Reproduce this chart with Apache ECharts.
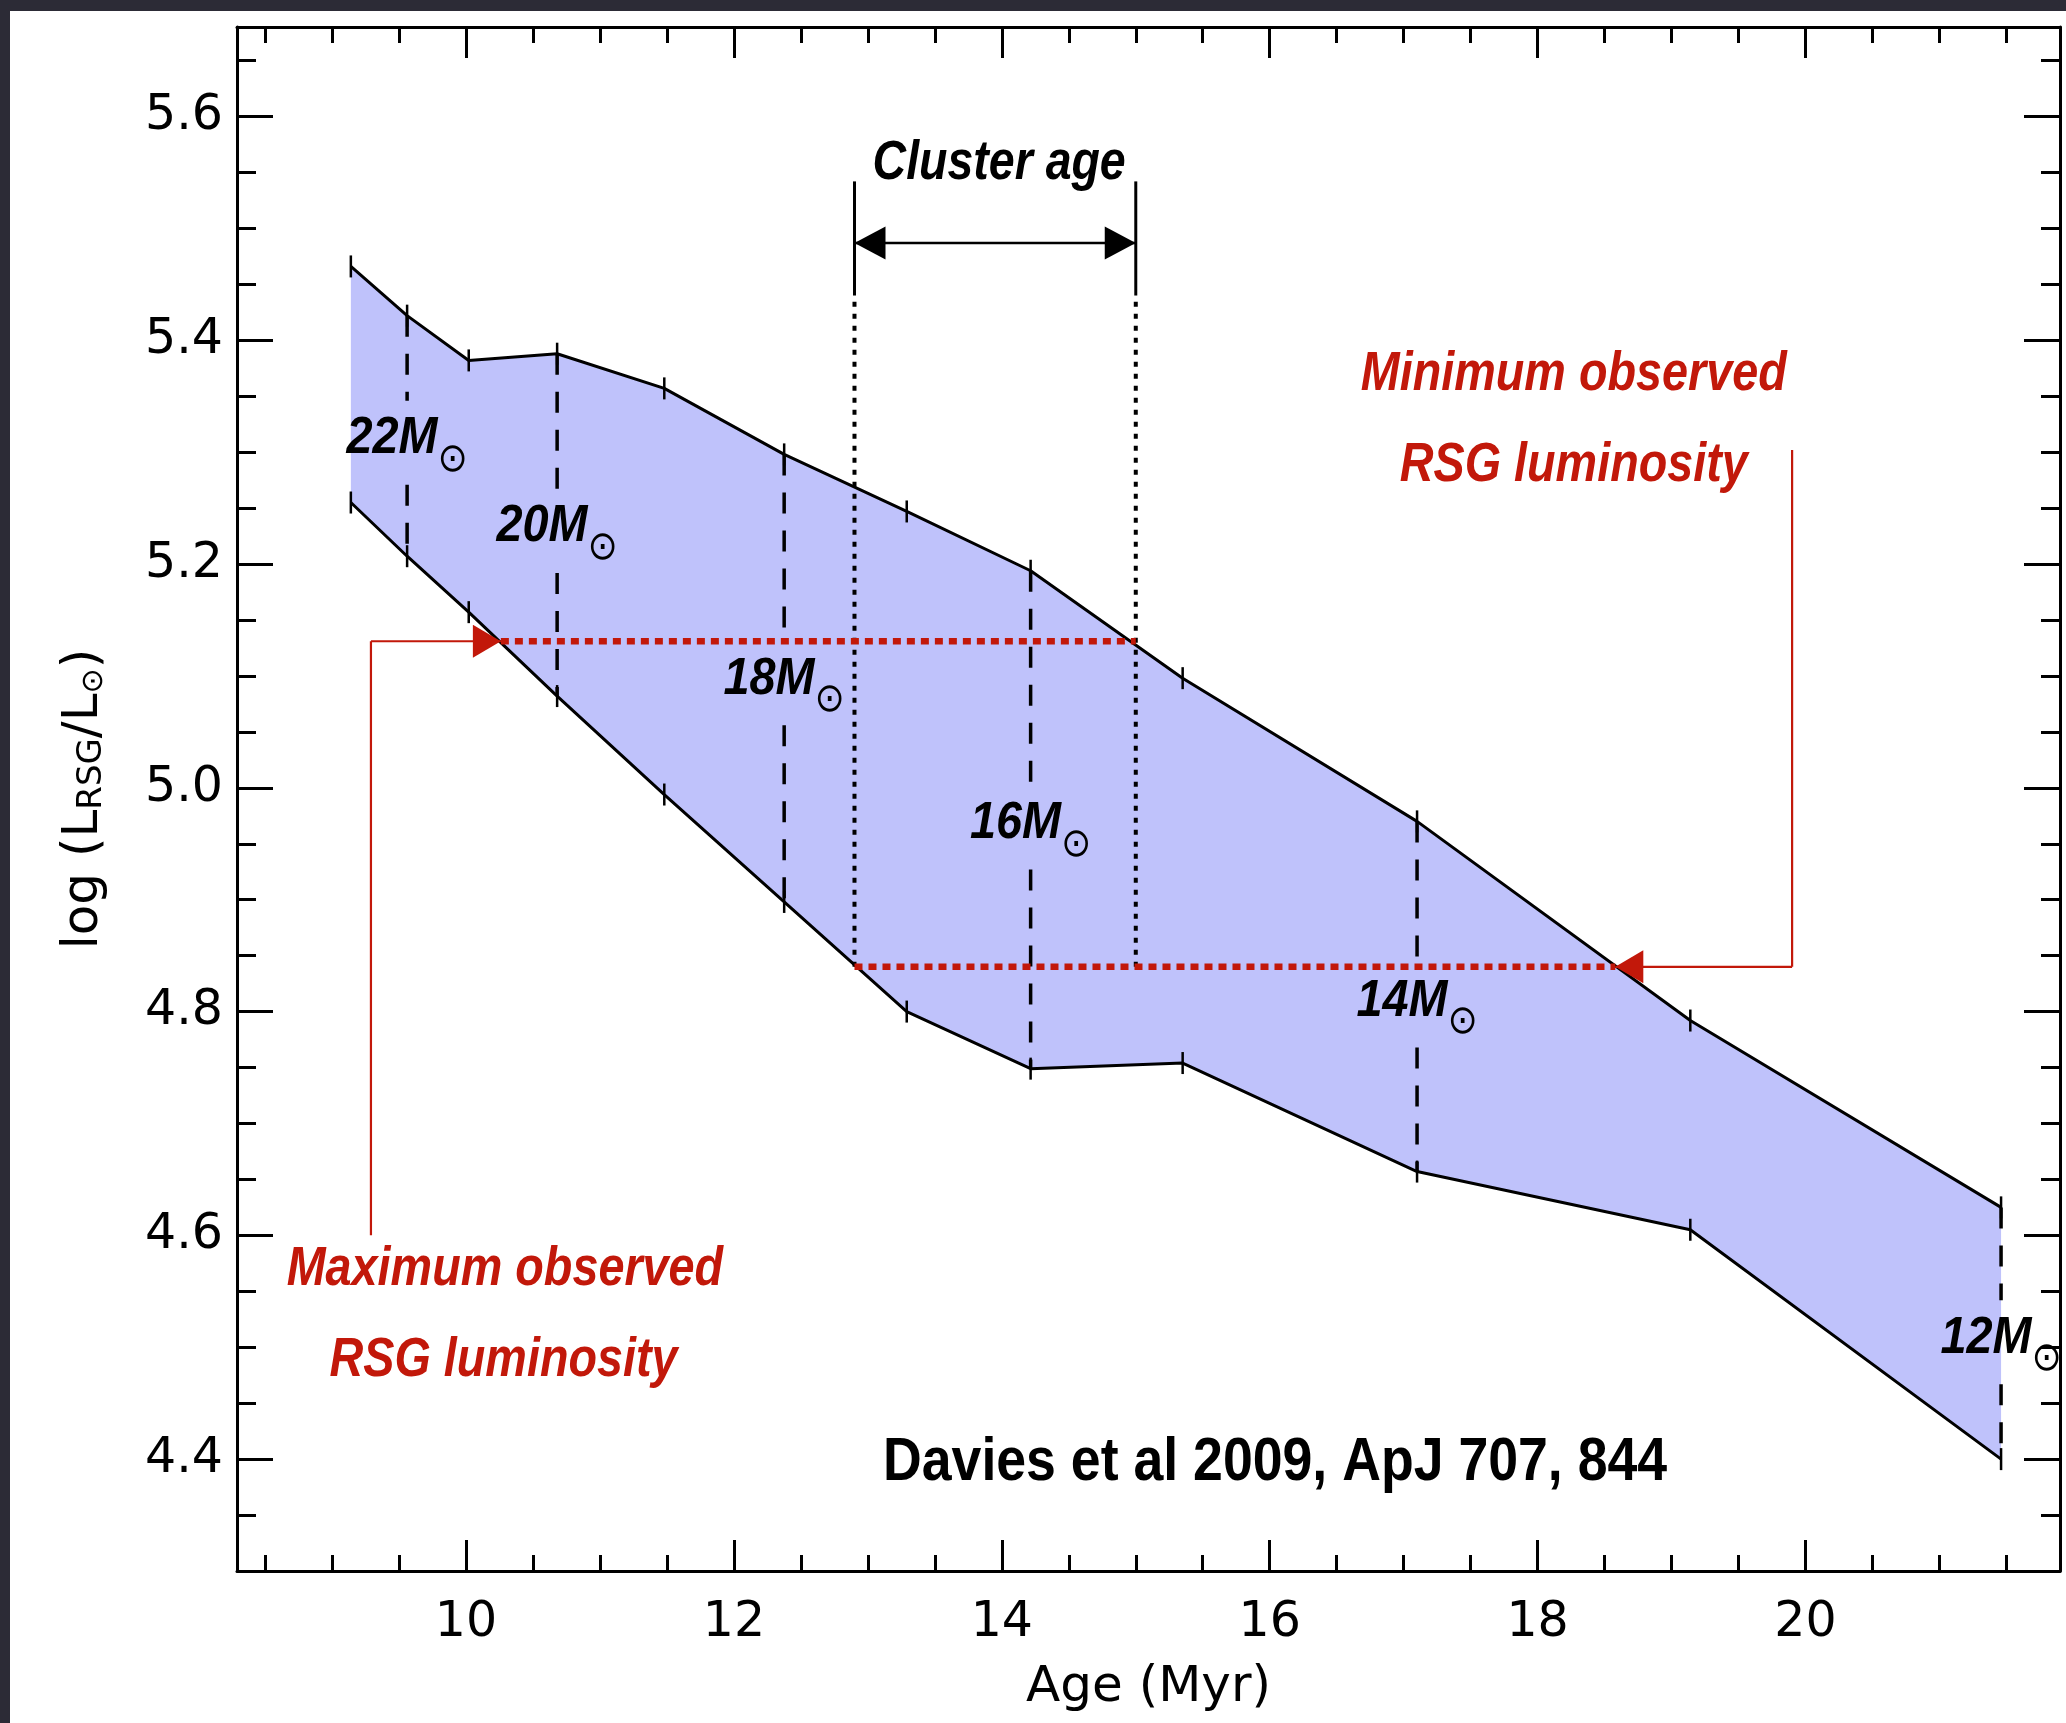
<!DOCTYPE html>
<html><head><meta charset="utf-8">
<script src="https://cdn.jsdelivr.net/npm/echarts@6/dist/echarts.min.js"></script>
<style>
html,body{margin:0;padding:0;background:#2c2b36;width:2066px;height:1723px;overflow:hidden}
#chart{position:absolute;left:10px;top:11px;width:2056px;height:1712px;background:#fff}
</style></head><body><div id="chart"></div>
<script>
// ---------------- data ----------------
const ages      = [9.14, 9.56, 10.02, 10.68, 11.48, 12.375, 13.29, 14.215, 15.35, 17.10, 19.14, 21.46];
const upperLogL = [5.466, 5.422, 5.382, 5.388, 5.357, 5.298, 5.247, 5.194, 5.098, 4.970, 4.792, 4.625];
const lowerLogL = [5.255, 5.207, 5.157, 5.082, 4.994, 4.898, 4.800, 4.749, 4.754, 4.657, 4.605, 4.400];
const massLabels    = ['22M', '20M', '18M', '16M', '14M', '12M'];
const massAgeIndex  = [1, 3, 5, 7, 9, 11];
const massLabelLogL = [5.312, 5.233, 5.097, 4.968, 4.809, 4.508];
const clusterAgeRange = [12.9, 15.0];
const clusterArrowLogL = 5.487;
const clusterBarLogL = [5.44, 5.542];
const maxObsLogL = 5.131;
const minObsLogL = 4.84;
const maxObsAgeRange = [10.26, 15.0];
const minObsAgeRange = [12.9, 18.58];
const maxConnector = [[9.29, 4.60], [9.29, 5.131], [10.26, 5.131]];
const minConnector = [[19.90, 5.302], [19.90, 4.84], [18.58, 4.84]];
const xTickLabels = [10, 12, 14, 16, 18, 20];
const yTickLabels = [4.4, 4.6, 4.8, 5.0, 5.2, 5.4, 5.6];
const redNotes = [
  {name: 'Minimum observed', value: [18.27, 5.369]},
  {name: 'RSG luminosity',   value: [18.27, 5.288]},
  {name: 'Maximum observed', value: [10.29, 4.569]},
  {name: 'RSG luminosity',   value: [10.28, 4.488]}
];
const clusterNote = {name: 'Cluster age', value: [13.98, 5.558]};
const citeNote = {name: 'Davies et al 2009, ApJ 707, 844', value: [16.04, 4.397]};

// ---------------- styling ----------------
const X_MIN = 8.29, X_MAX = 21.9, Y_MIN = 4.3, Y_MAX = 5.68;
const AX_FONT = '"DejaVu Sans", "Liberation Sans", Arial, sans-serif';
const NOTE_FONT = '"Liberation Sans", Arial, Helvetica, sans-serif';
const RED = '#c2180a';
const FILL = '#bfc2fb';

const near = (v, step) => Math.abs(v / step - Math.round(v / step)) < 1e-6;

function xAx(pos, minor, extra) {
  return Object.assign({
    type: 'value', gridIndex: 0, position: pos, min: X_MIN, max: X_MAX,
    splitNumber: minor ? 27 : 7,
    axisLine: {show: !minor, onZero: false, lineStyle: {color: '#000', width: 3}},
    axisTick: {show: true, inside: true, length: minor ? 16 : 31, lineStyle: {color: '#000', width: 3}},
    axisLabel: {show: false}, splitLine: {show: false}, minorTick: {show: false}
  }, extra || {});
}
function yAx(pos, minor, extra) {
  return Object.assign({
    type: 'value', gridIndex: 0, position: pos, min: Y_MIN, max: Y_MAX,
    splitNumber: minor ? 28 : 7,
    axisLine: {show: !minor, onZero: false, lineStyle: {color: '#000', width: 3}},
    axisTick: {show: true, inside: true, length: minor ? 19 : 36, lineStyle: {color: '#000', width: 3}},
    axisLabel: {show: false}, splitLine: {show: false}, minorTick: {show: false}
  }, extra || {});
}

function segSeries(segs, style, z) {
  return {
    type: 'custom', coordinateSystem: 'cartesian2d', xAxisIndex: 0, yAxisIndex: 0,
    data: segs, encode: {x: [0, 2], y: [1, 3]}, silent: true, z: z, clip: false,
    renderItem: function (params, api) {
      const a = api.coord([api.value(0), api.value(1)]);
      const b = api.coord([api.value(2), api.value(3)]);
      return {type: 'line', shape: {x1: a[0], y1: a[1], x2: b[0], y2: b[1]},
        style: Object.assign({fill: null}, style)};
    }
  };
}
function polySegs(pts) {
  const out = [];
  for (let i = 0; i < pts.length - 1; i++) out.push([pts[i][0], pts[i][1], pts[i + 1][0], pts[i + 1][1]]);
  return out;
}
function arrowSeries(tips, color, L, H, z) {
  return {
    type: 'custom', coordinateSystem: 'cartesian2d', xAxisIndex: 0, yAxisIndex: 0,
    data: tips, encode: {x: 0, y: 1}, silent: true, z: z, clip: false,
    renderItem: function (params, api) {
      const p = api.coord([api.value(0), api.value(1)]);
      const d = api.value(2);
      return {type: 'polygon', shape: {points: [[p[0], p[1]], [p[0] - d * L, p[1] - H], [p[0] - d * L, p[1] + H]]},
        style: {fill: color, stroke: null}};
    }
  };
}
function boundary(vals) {
  return {
    type: 'line', xAxisIndex: 0, yAxisIndex: 0, data: ages.map((a, i) => [a, vals[i]]),
    symbol: 'rect', symbolSize: [2.5, 22], showSymbol: true, showAllSymbol: true,
    itemStyle: {color: '#000'}, lineStyle: {color: '#000', width: 3}, silent: true, z: 5
  };
}

const option = {
  backgroundColor: '#ffffff',
  animation: false,
  grid: {left: 227, top: 16, right: 6, bottom: 152, containLabel: false},
  xAxis: [
    xAx('bottom', false, {
      axisLabel: {show: true, fontSize: 49, color: '#000', fontFamily: AX_FONT, margin: 28,
        formatter: v => (near(v, 2) && xTickLabels.indexOf(Math.round(v)) >= 0) ? String(Math.round(v)) : ''},
      name: 'Age (Myr)', nameLocation: 'middle', nameGap: 92,
      nameTextStyle: {fontSize: 50, color: '#000', fontFamily: AX_FONT}
    }),
    xAx('bottom', true),
    xAx('top', false),
    xAx('top', true)
  ],
  yAxis: [
    yAx('left', false, {
      axisLabel: {show: true, fontSize: 49, color: '#000', fontFamily: AX_FONT, margin: 14,
        formatter: v => (near(v, 0.2) && yTickLabels.some(t => Math.abs(t - v) < 1e-6)) ? v.toFixed(1) : ''},
      name: '{n|log (L}{s|RSG}{n|/L}{o|⊙}{n|)}', nameLocation: 'middle', nameGap: 128,
      nameTextStyle: {fontSize: 50, color: '#000', fontFamily: AX_FONT,
        rich: {
          n: {fontSize: 50, fontFamily: AX_FONT, color: '#000', lineHeight: 56, verticalAlign: 'bottom'},
          s: {fontSize: 34, fontFamily: AX_FONT, color: '#000', lineHeight: 45, verticalAlign: 'bottom'},
          o: {fontSize: 30, fontFamily: AX_FONT, color: '#000', lineHeight: 38, verticalAlign: 'bottom'}
        }}
    }),
    yAx('left', true),
    yAx('right', false),
    yAx('right', true)
  ],
  series: [
    // shaded band between upper and lower luminosity
    {
      type: 'custom', coordinateSystem: 'cartesian2d', xAxisIndex: 0, yAxisIndex: 0,
      data: [[ages[0], upperLogL[0]]], encode: {x: 0, y: 1}, silent: true, z: 1,
      renderItem: function (params, api) {
        const pts = [];
        ages.forEach((a, i) => pts.push(api.coord([a, upperLogL[i]])));
        for (let i = ages.length - 1; i >= 0; i--) pts.push(api.coord([ages[i], lowerLogL[i]]));
        return {type: 'polygon', shape: {points: pts}, style: {fill: FILL, stroke: null}};
      }
    },
    // dashed mass lines, broken around labels
    {
      type: 'custom', coordinateSystem: 'cartesian2d', xAxisIndex: 0, yAxisIndex: 0,
      data: massAgeIndex.map((k, j) => [ages[k], lowerLogL[k], upperLogL[k], massLabelLogL[j]]),
      encode: {x: 0, y: [1, 2]}, silent: true, z: 3, clip: false,
      renderItem: function (params, api) {
        const x = api.value(0);
        const lo = api.coord([x, api.value(1)]);
        const up = api.coord([x, api.value(2)]);
        const lab = api.coord([x, api.value(3)]);
        const st = {stroke: '#000', lineWidth: 3.5, lineDash: [21, 17], fill: null};
        return {type: 'group', children: [
          {type: 'line', shape: {x1: up[0], y1: up[1], x2: up[0], y2: lab[1] - 38}, style: st},
          {type: 'line', shape: {x1: lo[0], y1: lab[1] + 46, x2: lo[0], y2: lo[1]}, style: st}
        ]};
      }
    },
    boundary(upperLogL),
    boundary(lowerLogL),
    // cluster age markers
    segSeries(clusterAgeRange.map(a => [a, clusterBarLogL[0], a, clusterBarLogL[1]]),
      {stroke: '#000', lineWidth: 3}, 4),
    segSeries([[clusterAgeRange[0], minObsLogL, clusterAgeRange[0], clusterBarLogL[0]],
               [clusterAgeRange[1], minObsLogL, clusterAgeRange[1], clusterBarLogL[0]]],
      {stroke: '#000', lineWidth: 4, lineDash: [5, 7]}, 4),
    segSeries([[clusterAgeRange[0], clusterArrowLogL, clusterAgeRange[1], clusterArrowLogL]],
      {stroke: '#000', lineWidth: 2.5}, 4),
    arrowSeries([[clusterAgeRange[0], clusterArrowLogL, -1], [clusterAgeRange[1], clusterArrowLogL, 1]],
      '#000', 31, 16.5, 6),
    // observed luminosity limits
    segSeries([[maxObsAgeRange[0], maxObsLogL, maxObsAgeRange[1], maxObsLogL],
               [minObsAgeRange[0], minObsLogL, minObsAgeRange[1], minObsLogL]],
      {stroke: RED, lineWidth: 6.5, lineDash: [8, 6]}, 6),
    segSeries(polySegs(maxConnector).concat(polySegs(minConnector)),
      {stroke: RED, lineWidth: 2.2}, 6),
    arrowSeries([[maxConnector[2][0], maxConnector[2][1], 1], [minConnector[2][0], minConnector[2][1], -1]],
      RED, 28, 16.5, 7)
  ]
};
const chart = echarts.init(document.getElementById('chart'), null, {renderer: 'canvas'});
chart.setOption(option);

// ---------------- text annotations (condensed via horizontal scale) ----------------
const toPx = v => chart.convertToPixel({seriesIndex: 2}, v);
function textEl(note, style, sx) {
  const p = toPx(note.value);
  return {
    type: 'text', x: p[0], y: p[1], scaleX: sx, z: 100, silent: true,
    style: Object.assign({text: note.name, align: 'center', verticalAlign: 'middle',
      textAlign: 'center', textVerticalAlign: 'middle', fontFamily: NOTE_FONT}, style)
  };
}
const boldItalic = {fontWeight: 'bold', fontStyle: 'italic'};
const graphics = [];
redNotes.forEach(n => graphics.push(textEl(n, Object.assign({fill: RED, fontSize: 55}, boldItalic), 0.85)));
graphics.push(textEl(clusterNote, Object.assign({fill: '#000', fontSize: 56}, boldItalic), 0.83));
graphics.push(textEl(citeNote, {fill: '#000', fontSize: 62, fontWeight: 'bold'}, 0.865));
massAgeIndex.forEach((k, j) => {
  graphics.push(textEl({name: '{a|' + massLabels[j] + '}{b|⊙}', value: [ages[k], massLabelLogL[j]]}, {
    fill: '#000', fontSize: 52,
    rich: {
      a: {fontSize: 52, fontWeight: 'bold', fontStyle: 'italic', fontFamily: NOTE_FONT, fill: '#000', lineHeight: 56},
      b: {fontSize: 40, fontFamily: '"DejaVu Sans", sans-serif', fill: '#000', lineHeight: 40, padding: [43, 0, 0, 0]}
    }
  }, 0.9));
});
chart.setOption({graphic: graphics});
</script>
</body></html>
